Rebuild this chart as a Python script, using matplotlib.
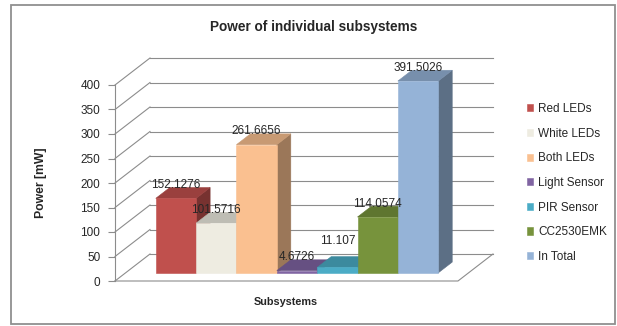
import matplotlib
matplotlib.use("Agg")
import matplotlib.pyplot as plt
from matplotlib.patches import Polygon, Rectangle
from matplotlib.colors import to_rgb

plt.rcParams['font.family'] = ['Liberation Sans', 'DejaVu Sans']

# --- data ---
subsystems = ['Red LEDs', 'White LEDs', 'Both LEDs', 'Light Sensor',
              'PIR Sensor', 'CC2530EMK', 'In Total']
power_mw = [152.1276, 101.5716, 261.6656, 4.6726, 11.107, 114.0574, 391.5026]
bar_colors = ['#C0504D', '#EEECE1', '#FAC090', '#8064A2',
              '#4BACC6', '#77933C', '#95B3D7']
y_ticks = [0, 50, 100, 150, 200, 250, 300, 350, 400]

# extra lift for labels that would collide with a neighbour
label_nudge = {'PIR Sensor': 27}

# --- fake 3D geometry (oblique projection) ---
W, H = 617, 326
PX_SLOT = 40.35          # pixels per bar slot
PX_VAL = 0.49            # pixels per mW
DX = 35 / PX_SLOT        # wall depth, in slot units
DY = 27 / PX_VAL         # wall depth, in mW units
SPAN = len(subsystems) + 1.5   # bars plus gap width of 150 %
F0, F1 = 0.3, 0.7        # front / back of the bars as fraction of depth
YMAX = y_ticks[-1]

fig = plt.figure(figsize=(W / 100, H / 100), dpi=100)
ax = fig.add_axes([115 / W, (H - 281) / H,
                   (SPAN + DX) * PX_SLOT / W, (YMAX + DY) * PX_VAL / H])
ax.set_xlim(0, SPAN + DX)
ax.set_ylim(0, YMAX + DY)

grid_c = '#8C8C8C'

# walls / gridlines
for v in y_ticks:
    ax.plot([0, DX], [v, v + DY], color=grid_c, lw=0.8, zorder=1, clip_on=False)
    ax.plot([DX, SPAN + DX], [v + DY, v + DY], color=grid_c, lw=0.8, zorder=1,
            clip_on=False)
# floor outline
ax.plot([0, SPAN, SPAN + DX], [0, 0, DY], color=grid_c, lw=0.8, zorder=1,
        clip_on=False)


def shade(c, f):
    r, g, b = to_rgb(c)
    return (r * f, g * f, b * f)


ddx, ddy = (F1 - F0) * DX, (F1 - F0) * DY
base = F0 * DY
for i, (name, v, c) in enumerate(zip(subsystems, power_mw, bar_colors)):
    x0 = 0.75 + i + F0 * DX
    z = 3 + i * 3
    side = Polygon([(x0 + 1, base), (x0 + 1, base + v),
                    (x0 + 1 + ddx, base + v + ddy), (x0 + 1 + ddx, base + ddy)],
                   closed=True, facecolor=shade(c, 0.62),
                   edgecolor=shade(c, 0.62), lw=0.4, zorder=z)
    top = Polygon([(x0, base + v), (x0 + 1, base + v),
                   (x0 + 1 + ddx, base + v + ddy), (x0 + ddx, base + v + ddy)],
                  closed=True, facecolor=shade(c, 0.8),
                  edgecolor=shade(c, 0.8), lw=0.4, zorder=z + 1)
    ax.add_patch(side)
    ax.add_patch(top)
    ax.bar(x0, v, width=1, bottom=base, align='edge', color=c, edgecolor=c,
           lw=0.4, zorder=z + 2, label=name)
    ax.text(x0 + 0.5, base + v + 27 + label_nudge.get(name, 0), str(v),
            ha='center', va='center', fontsize=8.5, color='#262626', zorder=50)

# axis styling
for s in ['top', 'right', 'bottom']:
    ax.spines[s].set_visible(False)
ax.spines['left'].set_bounds(0, YMAX)
ax.spines['left'].set_color(grid_c)
ax.spines['left'].set_linewidth(0.8)
ax.set_xticks([])
ax.set_yticks(y_ticks)
ax.tick_params(axis='y', direction='out', length=5, width=0.8, color=grid_c,
               pad=5.5, labelsize=8.5, labelcolor='#262626')
ax.patch.set_visible(False)

ax.set_xlabel('Subsystems', fontsize=7.8, fontweight='bold', color='#262626')
ax.xaxis.set_label_coords((286 - 115) / ((SPAN + DX) * PX_SLOT),
                          -(297 - 281) / ((YMAX + DY) * PX_VAL))
ax.set_ylabel('Power [mW]', fontsize=8.8, fontweight='bold', color='#262626')
ax.yaxis.set_label_coords((47 - 115) / ((SPAN + DX) * PX_SLOT),
                          (281 - 183) / ((YMAX + DY) * PX_VAL))

fig.text(313.5 / W, 1 - 27 / H, 'Power of individual subsystems',
         ha='center', va='center', fontsize=9.8, fontweight='bold',
         color='#262626')

fig.legend(loc='upper left', bbox_to_anchor=(527 / W, 1 - 103 / H),
           frameon=False, fontsize=8.5, borderpad=0, borderaxespad=0,
           handlelength=0.55, handleheight=0.55, handletextpad=0.4,
           labelspacing=1.07, labelcolor='#262626')

# chart frame
fig.add_artist(Rectangle((11 / W, 2 / H), 604 / W, 319 / H,
                         transform=fig.transFigure, fill=False,
                         edgecolor='#909090', lw=1.3))

fig.savefig('out.png', dpi=100)
